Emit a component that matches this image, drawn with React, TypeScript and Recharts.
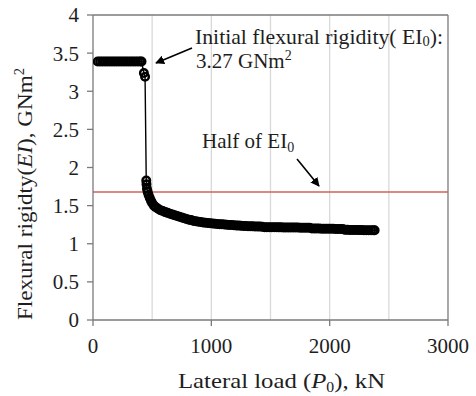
import React from 'react';
import { LineChart, Line, XAxis, YAxis, ReferenceLine } from 'recharts';

const loadsKN = [
  40, 60, 80, 100, 120, 140, 160, 180, 200, 220, 240, 260, 280, 300, 320, 340, 360, 380, 400, 410,
  430, 440, 450, 452, 456, 462, 470, 480, 490, 500, 515, 530, 550, 570, 590, 610, 630, 650, 670, 690,
  710, 730, 750, 770, 790, 810, 830, 850, 870, 890, 910, 930, 950, 970, 990, 1010, 1030, 1050, 1070, 1090,
  1110, 1130, 1150, 1170, 1190, 1210, 1230, 1250, 1270, 1290, 1310, 1330, 1350, 1370, 1390, 1410, 1430,
  1450, 1470, 1490, 1510, 1530, 1550, 1570, 1590, 1610, 1630, 1650, 1670, 1690, 1710, 1730, 1750, 1770, 1790, 1810, 1830,
  1850, 1870, 1890, 1910, 1930, 1950, 1970, 1990, 2010, 2030, 2050, 2070, 2090, 2110,
  2130, 2150, 2170, 2190, 2210, 2230, 2250, 2270, 2290, 2310, 2330, 2350, 2370, 2380,
];

const flexuralRigidity = [
  3.39, 3.39, 3.39, 3.39, 3.39, 3.39, 3.39, 3.39, 3.39, 3.39, 3.39, 3.39, 3.39, 3.39, 3.39, 3.39, 3.39, 3.39, 3.39, 3.39,
  3.24, 3.19, 1.83, 1.78, 1.72, 1.68, 1.64, 1.6, 1.565, 1.535, 1.5, 1.48, 1.46, 1.44, 1.43, 1.415, 1.405, 1.395, 1.385, 1.375,
  1.365, 1.355, 1.345, 1.335, 1.325, 1.315, 1.31, 1.3, 1.295, 1.29, 1.285, 1.28, 1.275, 1.272, 1.27, 1.265, 1.262, 1.26, 1.257, 1.255,
  1.252, 1.25, 1.247, 1.245, 1.243, 1.24, 1.238, 1.236, 1.234, 1.232, 1.23, 1.23, 1.228, 1.227, 1.226, 1.225, 1.224,
  1.218, 1.218, 1.217, 1.217, 1.216, 1.216, 1.215, 1.215, 1.214, 1.214, 1.213, 1.213, 1.212, 1.212, 1.212, 1.211, 1.211, 1.211, 1.21, 1.21,
  1.2, 1.2, 1.199, 1.199, 1.198, 1.198, 1.197, 1.197, 1.196, 1.196, 1.195, 1.195, 1.194, 1.194,
  1.182, 1.182, 1.181, 1.181, 1.18, 1.18, 1.179, 1.179, 1.178, 1.178, 1.177, 1.177, 1.176, 1.176,
];

const xTicks = [0, 1000, 2000, 3000];
const yTicks = [0, 0.5, 1, 1.5, 2, 2.5, 3, 3.5, 4];
const xGridValues = [500, 1000, 1500, 2000, 2500];
const halfEI0 = 1.68;

const data = loadsKN.map((p, i) => ({ p, ei: flexuralRigidity[i] }));

const W = 476;
const H = 396;
const FONT = 'Liberation Serif';
const AXIS = '#7a7a7a';
const TEXT = '#1e1e1e';
const FS = 21;

const XTick = (props: any) => {
  const { x, y, payload } = props;
  return (
    <text x={x} y={y} dy="0.71em" textAnchor="middle" style={{ fontFamily: FONT }} fontSize={FS} fill={TEXT}>
      {payload.value}
    </text>
  );
};

const YTick = (props: any) => {
  const { x, y, payload } = props;
  return (
    <text x={x} y={y} dy="0.355em" textAnchor="end" style={{ fontFamily: FONT }} fontSize={FS} fill={TEXT}>
      {payload.value}
    </text>
  );
};

export default function App() {
  return (
    <div style={{ position: 'absolute', left: 0, top: 0, width: W, height: H, background: '#fff', fontFamily: FONT }}>
      <LineChart width={W} height={H} data={data} margin={{ top: 15, right: 28, bottom: 46, left: 0 }}>
        {xGridValues.map((v) => (
          <ReferenceLine key={v} x={v} stroke="#d9d9d9" strokeWidth={1.3} />
        ))}
        <ReferenceLine y={4} stroke={AXIS} strokeWidth={1.3} />
        <ReferenceLine x={3000} stroke={AXIS} strokeWidth={1.3} />
        <ReferenceLine y={halfEI0} stroke="#d0605e" strokeWidth={1.5} />
        <XAxis
          type="number"
          dataKey="p"
          domain={[0, 3000]}
          ticks={xTicks}
          height={30}
          tickSize={6}
          tickMargin={12}
          stroke={AXIS}
          strokeWidth={1.3}
          tick={<XTick />}
          allowDataOverflow
        />
        <YAxis
          type="number"
          domain={[0, 4]}
          ticks={yTicks}
          width={93}
          tickSize={6}
          tickMargin={8}
          stroke={AXIS}
          strokeWidth={1.3}
          tick={<YTick />}
          allowDataOverflow
        />
        <Line
          dataKey="ei"
          stroke="#000"
          strokeWidth={1.4}
          dot={{ r: 3.75, stroke: '#000', strokeWidth: 2.5, fill: 'none' }}
          activeDot={false}
          isAnimationActive={false}
        />
      </LineChart>
      <svg
        width={W}
        height={H}
        style={{ position: 'absolute', left: 0, top: 0, pointerEvents: 'none', fontFamily: FONT }}
        fill={TEXT}
      >
        <defs>
          <marker id="arrowHead" viewBox="0 0 10 10" refX="9" refY="5" markerWidth="9" markerHeight="9" orient="auto" markerUnits="userSpaceOnUse">
            <path d="M0,0 L10,5 L0,10 z" fill="#000" />
          </marker>
        </defs>
        <text x={195} y={44} fontSize={FS} textLength={248} lengthAdjust="spacingAndGlyphs">
          Initial flexural rigidity( EI<tspan fontSize={14} dy={2}>0</tspan>
          <tspan dy={-2}>):</tspan>
        </text>
        <text x={196} y={68} fontSize={FS}>
          3.27 GNm<tspan fontSize={14} dy={-8}>2</tspan>
        </text>
        <line x1={192} y1={48} x2={156} y2={63} stroke="#000" strokeWidth={1.6} markerEnd="url(#arrowHead)" />
        <text x={202} y={148} fontSize={FS}>
          Half of EI<tspan fontSize={14} dy={4}>0</tspan>
        </text>
        <line x1={297} y1={159} x2={319} y2={186} stroke="#000" strokeWidth={1.6} markerEnd="url(#arrowHead)" />
        <text x={178} y={388} fontSize={22} textLength={207} lengthAdjust="spacingAndGlyphs">
          Lateral load (<tspan fontStyle="italic">P</tspan>
          <tspan fontSize={14} dy={4}>0</tspan>
          <tspan dy={-4}>), kN</tspan>
        </text>
        <text x={32} y={320} fontSize={22} textLength={252} lengthAdjust="spacingAndGlyphs" transform="rotate(-90 32 320)">
          Flexural rigidty(<tspan fontStyle="italic">EI</tspan>), GNm<tspan fontSize={14} dy={-8}>2</tspan>
        </text>
      </svg>
    </div>
  );
}
